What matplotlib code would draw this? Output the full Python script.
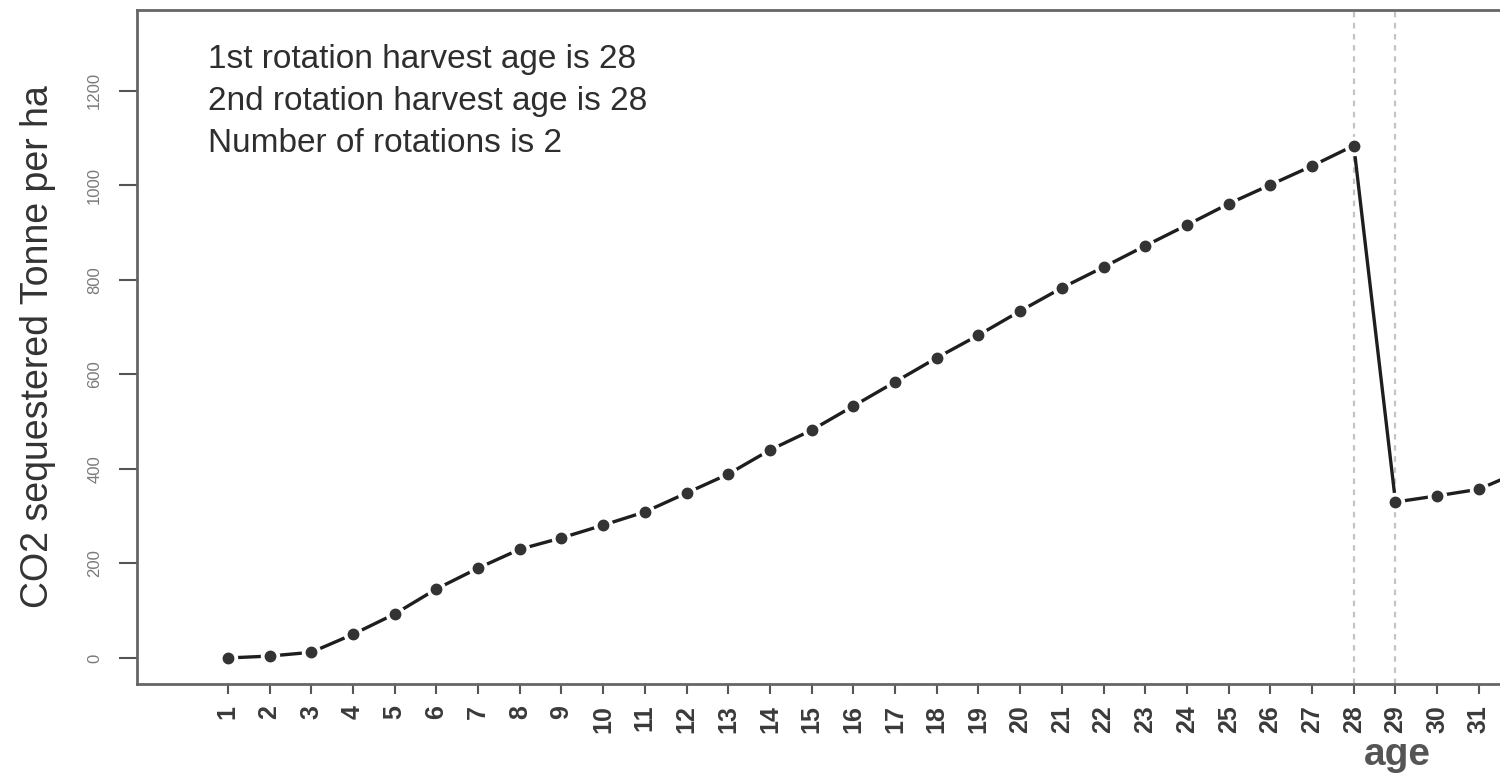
import matplotlib
matplotlib.use("Agg")
import numpy as np
from matplotlib import pyplot as plt

# carbon stock by stand age, two rotations harvested at 28
age = np.arange(1, 33)
co2 = [0, 4, 12, 50, 93, 146, 190, 230, 254, 281, 309, 349, 389, 440, 482,
       533, 584, 635, 683, 734, 783, 827, 872, 916, 961, 1001, 1041, 1084,
       330, 343, 357, 395]
harvest_ages = [28, 29]
y_ticks = [0, 200, 400, 600, 800, 1000, 1200]
notes = ["1st rotation harvest age is 28",
         "2nd rotation harvest age is 28",
         "Number of rotations is 2"]

plt.rcParams['font.family'] = ['Liberation Sans', 'DejaVu Sans']
ink = '#2e2e2e'

fig = plt.figure(figsize=(15, 7.76), dpi=100)
# plot region is wider than the saved canvas; right part falls outside
ax = fig.add_axes([0.0913, 0.1186, 1.68, 0.8686])
ax.set_xlim(-1.18, 59.25)
ax.set_ylim(-55, 1371)

for h in harvest_ages:
    ax.axvline(h, color='#c4c4c4', lw=1.6, ls=(0, (2.5, 2.5)), zorder=1)

# R-style type="b": segments stop short of each point
ax.plot(age, co2, color='#1e1e1e', lw=2.4, zorder=2, solid_capstyle='butt')
ax.plot(age, co2, ls='none', marker='o', ms=13, mfc='white', mec='white', zorder=3)
ax.plot(age, co2, ls='none', marker='o', ms=7.5, mfc='#333333', mec='#333333', zorder=4)

ax.set_xticks(age)
ax.set_xticklabels([str(a) for a in age], rotation=90, fontsize=18,
                   fontweight='bold', color='#3a3a3a')
ax.set_yticks(y_ticks)
ax.set_yticklabels([str(v) for v in y_ticks], rotation=90, fontsize=12,
                   color='#7a7a7a', va='center')
ax.tick_params(axis='x', length=7, width=1.5, color='#555555', pad=8)
ax.tick_params(axis='y', length=13, width=1.5, color='#555555', pad=12)

for s in ax.spines.values():
    s.set_color('#666666')
    s.set_linewidth(2)

ax.set_xlabel('age', fontsize=28, fontweight='bold', color='#555555', labelpad=3)

# y label centred in figure space, since the axes run off the right edge
ax.set_ylabel('CO2 sequestered Tonne per ha', fontsize=27, color='#333333',
              va='center')
ax.yaxis.set_label_coords(38 / 1500, 1 - 347 / 776, transform=fig.transFigure)

for i, line in enumerate(notes):
    fig.text(208 / 1500, 1 - (68 + 42 * i) / 776, line, fontsize=24,
             color=ink, va='baseline', ha='left')

fig.savefig('out.png', dpi=100)
